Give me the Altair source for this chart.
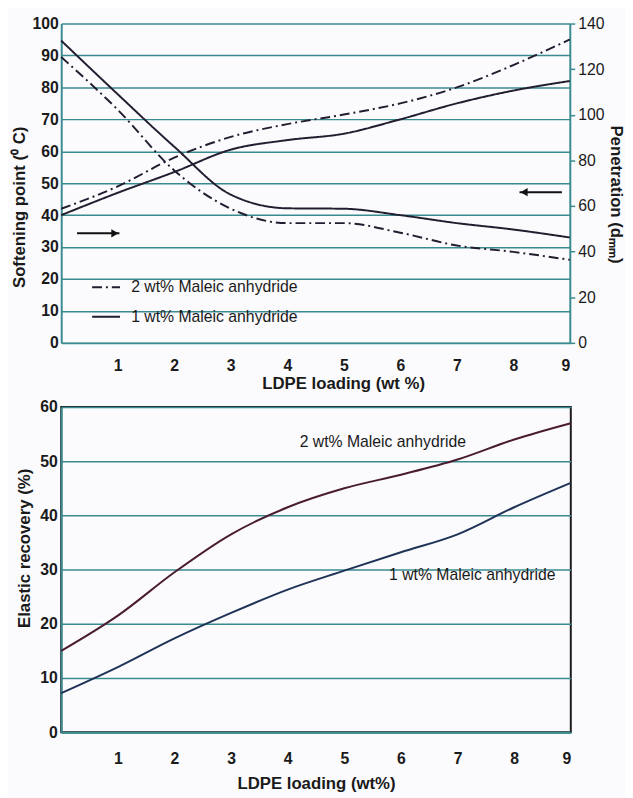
import altair as alt
import pandas as pd

# ---------------- data ----------------
x_load = [0, 1, 2, 3, 4, 5, 6, 7, 8, 9]
series_names = ["2 wt% Maleic anhydride", "1 wt% Maleic anhydride"]

soft_2 = [42, 49, 58, 64.5, 68.5, 71.5, 75, 80, 87, 95]
soft_1 = [40, 47, 53.5, 60.5, 63.5, 65.5, 70, 75, 79, 82]
pen_2 = [125.3, 102.2, 75.6, 58.8, 52.5, 52.5, 48.3, 42.7, 39.9, 36.4]
pen_1 = [132.5, 109.0, 86.0, 65.0, 59.0, 58.8, 56.0, 52.5, 49.7, 46.2]

er_2 = [15, 21.5, 29.5, 36.5, 41.5, 45, 47.5, 50.3, 54, 57]
er_1 = [7.2, 12, 17.3, 22, 26.3, 29.8, 33.2, 36.5, 41.5, 46]

arrow_tail = [0.28, 8.86]
arrow_tip = [1.03, 8.11]
arrow_head = [0.95, 8.19]
arrow_y = [34.3, 47.2]
arrow_shape = ["triangle-right", "triangle-left"]

label_x = [5.68, 7.26]
label_y = [53.6, 28.9]
label_text = ["2 wt% Maleic anhydride", "1 wt% Maleic anhydride"]

x_ticks = [1, 2, 3, 4, 5, 6, 7, 8, 9]
soft_ticks = list(range(0, 101, 10))
pen_ticks = list(range(0, 141, 20))
er_ticks = list(range(0, 61, 10))

# ---------------- style ----------------
FONT = "Liberation Sans"
TEAL = "#3a8a90"
INK = "#1a1a1a"
LINE = "#221e30"


def long(xs, a, b):
    rows = []
    for i, x in enumerate(xs):
        rows.append({"x": x, "v": a[i], "s": series_names[0]})
        rows.append({"x": x, "v": b[i], "s": series_names[1]})
    return pd.DataFrame(rows)


soft_df = long(x_load, soft_2, soft_1)
pen_df = long(x_load, pen_2, pen_1)
er_df = long(x_load, er_2, er_1)
arrow_df = pd.DataFrame({"tail": arrow_tail, "tip": arrow_tip, "head": arrow_head,
                         "y": arrow_y, "shape": arrow_shape})
lab_df = pd.DataFrame({"x": label_x, "y": label_y, "t": label_text})

x_scale = alt.Scale(domain=[0, 9], nice=False, zero=False)
soft_scale = alt.Scale(domain=[0, 100], nice=False)
pen_scale = alt.Scale(domain=[0, 140], nice=False)
er_scale = alt.Scale(domain=[0, 60], nice=False)


def x_axis(title, lp, tp, tx=None):
    kw = dict(values=x_ticks, format="d", title=title, grid=False, tickSize=0, labelPadding=lp,
              labelOverlap=False, domainColor=TEAL, domainWidth=2, labelFont=FONT,
              labelFontSize=16, labelFontWeight="bold", labelColor=INK, titleFont=FONT,
              titleFontSize=17, titleFontWeight="bold", titleColor=INK, titlePadding=tp)
    if tx is not None:
        kw["titleX"] = tx
    return alt.Axis(**kw)


top_x_axis = x_axis("LDPE loading (wt %)", 15, 2, 286)
bot_x_axis = x_axis("LDPE loading (wt%)", 19, 9)

soft_axis = alt.Axis(values=soft_ticks, format="d", orient="left",
                     title="Softening point (⁰ C)", labelOverlap=False,
                     grid=True, gridColor=TEAL, gridWidth=1.5, tickSize=0,
                     labelPadding=3, domainColor=TEAL, domainWidth=2,
                     labelFont=FONT, labelFontSize=16, labelFontWeight="bold",
                     labelColor=INK, titleFont=FONT, titleFontSize=17,
                     titleFontWeight="bold", titleColor=INK, titlePadding=4,
                     titleY=186)

pen_axis = alt.Axis(values=pen_ticks, format="d", orient="right",
                    title="Penetration (dₘₘ)", labelOverlap=False,
                    grid=False, tickSize=5, tickColor=TEAL, tickWidth=1.5,
                    labelPadding=3, domainColor=TEAL, domainWidth=2,
                    labelFont=FONT, labelFontSize=16, labelFontWeight="normal",
                    labelColor=INK, titleFont=FONT, titleFontSize=17,
                    titleFontWeight="bold", titleColor=INK, titlePadding=3,
                    titleAngle=90, titleY=173)

er_axis = alt.Axis(values=er_ticks, format="d", title="Elastic recovery (%)",
                   labelOverlap=False, grid=True,
                   gridColor=TEAL, gridWidth=1.5, tickSize=0, labelPadding=4,
                   domainColor=TEAL, domainWidth=2, labelFont=FONT,
                   labelFontSize=16, labelFontWeight="bold", labelColor=INK,
                   titleFont=FONT, titleFontSize=17, titleFontWeight="bold",
                   titleColor=INK, titlePadding=6, titleY=143)

dash_scale = alt.Scale(domain=series_names, range=[[10, 4, 2, 4], [1, 0]])

legend = alt.Legend(title=None, orient="none", legendX=30, legendY=252,
                    symbolType="stroke", symbolSize=800, symbolStrokeWidth=2,
                    symbolStrokeColor=LINE, labelFont=FONT, labelFontSize=16,
                    labelColor=INK, labelOffset=10, labelLimit=400, rowPadding=6, padding=0)

soft_lines = alt.Chart(soft_df).mark_line(color=LINE, strokeWidth=2, interpolate="monotone").encode(
    x=alt.X("x:Q", scale=x_scale, axis=top_x_axis),
    y=alt.Y("v:Q", scale=soft_scale, axis=soft_axis),
    strokeDash=alt.StrokeDash("s:N", scale=dash_scale, legend=legend, sort=series_names),
    detail="s:N",
)

arrow_rules = alt.Chart(arrow_df).mark_rule(color="#111111", strokeWidth=2).encode(
    x=alt.X("tail:Q", scale=x_scale, axis=top_x_axis),
    x2="tip:Q",
    y=alt.Y("y:Q", scale=soft_scale, axis=soft_axis),
)
arrow_heads = alt.Chart(arrow_df).mark_point(filled=True, color="#111111", size=70, opacity=1).encode(
    x=alt.X("head:Q", scale=x_scale, axis=top_x_axis),
    y=alt.Y("y:Q", scale=soft_scale, axis=soft_axis),
    shape=alt.Shape("shape:N", scale=None),
)

left_layer = alt.layer(soft_lines, arrow_rules, arrow_heads)

pen_lines = alt.Chart(pen_df).mark_line(color=LINE, strokeWidth=2, interpolate="monotone").encode(
    x=alt.X("x:Q", scale=x_scale, axis=top_x_axis),
    y=alt.Y("v:Q", scale=pen_scale, axis=pen_axis),
    strokeDash=alt.StrokeDash("s:N", scale=dash_scale, legend=legend, sort=series_names),
    detail="s:N",
)

top = alt.layer(left_layer, pen_lines).resolve_scale(y="independent").properties(
    width=516, height=324)

# ---------------- bottom chart ----------------
er_lines = alt.Chart(er_df).mark_line(strokeWidth=2, interpolate="monotone").encode(
    x=alt.X("x:Q", scale=x_scale, axis=bot_x_axis),
    y=alt.Y("v:Q", scale=er_scale, axis=er_axis),
    color=alt.Color("s:N", scale=alt.Scale(domain=series_names, range=["#4a1c30", "#1f3357"]),
                    legend=None),
)

er_labels = alt.Chart(lab_df).mark_text(font=FONT, fontSize=16, color=INK).encode(
    x=alt.X("x:Q", scale=x_scale, axis=bot_x_axis),
    y=alt.Y("y:Q", scale=er_scale, axis=er_axis),
    text="t:N",
)

bottom = alt.layer(er_lines, er_labels).properties(
    width=517, height=330,
    view=alt.ViewBackground(stroke="#1a1a1a", strokeWidth=2),
)

chart = alt.vconcat(top, bottom, spacing=65, bounds="flush").resolve_legend(
    strokeDash="independent", color="independent"
).properties(
    padding={"left": 2, "top": 2, "right": 0, "bottom": 0},
    background="#fbfbfd",
).configure_view(stroke=None)

chart.save("out.html", embed_options={"renderer": "svg", "actions": False})
